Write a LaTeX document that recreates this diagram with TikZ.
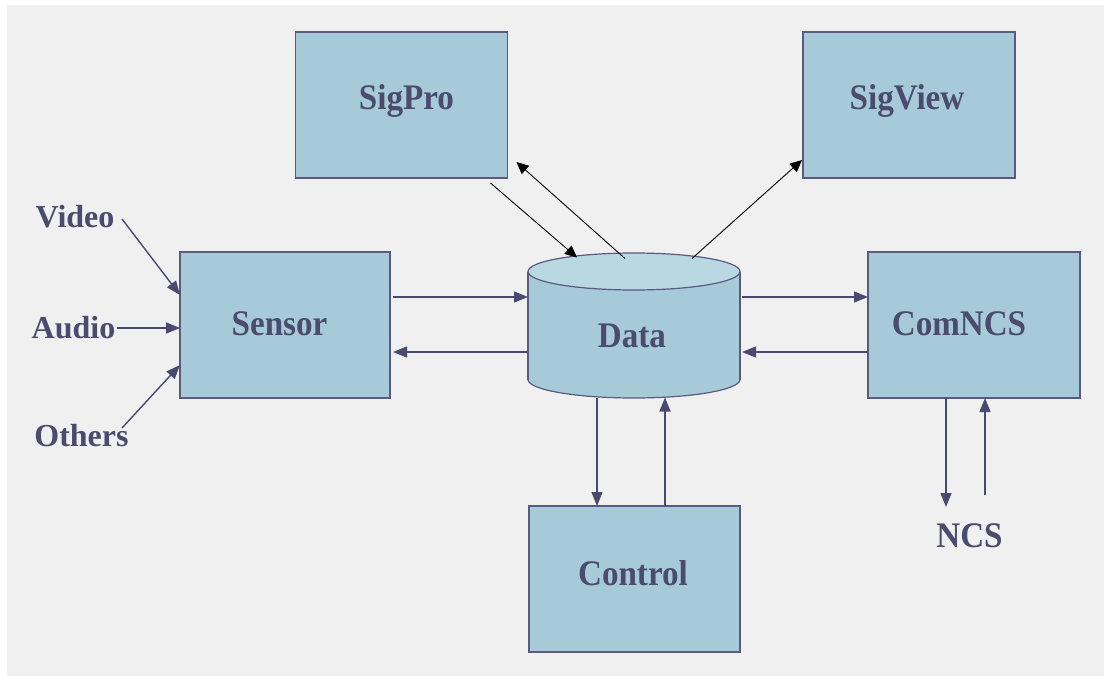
\documentclass[tikz,border=0pt]{standalone}
\usepackage{fontspec}
\setmainfont{Liberation Serif}
\newfontfamily\boxfont[FakeStretch=0.92]{Liberation Serif}
\usetikzlibrary{arrows.meta,calc}

\definecolor{paper}{RGB}{240,240,240}
\definecolor{boxfill}{RGB}{166,202,216}
\definecolor{topfill}{RGB}{186,216,226}
\definecolor{edge}{RGB}{90,90,128}
\definecolor{ink}{RGB}{75,75,110}
\definecolor{flow}{RGB}{74,74,112}

\tikzset{
  block/.style={draw=edge, fill=boxfill, line width=1.2pt, minimum width=212pt,
    minimum height=146pt, inner sep=0pt, outer sep=0pt},
  boxtext/.style={anchor=base, text=ink, inner sep=0pt,
    font=\boxfont\bfseries\fontsize{36}{40}\selectfont},
  sidetext/.style={anchor=base, text=ink, inner sep=0pt,
    font=\bfseries\fontsize{32}{36}\selectfont},
  flowline/.style={draw=flow, line width=1.4pt, -{Triangle[length=14pt,width=11pt]}},
  thinline/.style={draw=black, line width=0.9pt, -{Triangle[length=12pt,width=11pt]}},
}

\begin{document}
\begin{tikzpicture}[x=1pt, y=-1pt]
  % page and textured paper area
  \fill[white] (0,0) rectangle (1106,680);
  \useasboundingbox (0,0) rectangle (1106,680);
  \fill[paper] (7,5) rectangle (1104,676);

  % rectangular blocks
  \node[block] (sigpro)  at (401.5,105) {};
  \node[block] (sigview) at (909,105)   {};
  \node[block, minimum width=210pt] (sensor) at (285,325) {};
  \node[block] (comncs)  at (974,325)   {};
  \node[block, minimum width=211pt] (control) at (634.5,579) {};

  % data store drawn as a cylinder
  \node[minimum width=212pt, minimum height=145pt, inner sep=0pt, outer sep=0pt] (data) at (634,325) {};
  \fill[boxfill] (528,271.5) rectangle (740,379.5);
  \fill[boxfill] (634,379.5) ellipse [x radius=106, y radius=18.5];
  \begin{scope}
    \clip (520,379.5) rectangle (750,405);
    \draw[edge, line width=1.2pt] (634,379.5) ellipse [x radius=106, y radius=18.5];
  \end{scope}
  \draw[edge, line width=1.2pt] (528,271.5) -- (528,379.5) (740,271.5) -- (740,379.5);
  \draw[edge, fill=topfill, line width=1.2pt] (634,271.5) ellipse [x radius=106, y radius=18.5];

  % labels
  \node[boxtext] (sigpro-t)  at (406.5,109) {SigPro};
  \node[boxtext] (sigview-t) at (907,109)   {SigView};
  \node[boxtext] (sensor-t)  at (279.5,335) {Sensor};
  \node[boxtext] (data-t)    at (632,347)   {Data};
  \node[boxtext] (comncs-t)  at (959,335)   {ComNCS};
  \node[boxtext] (control-t) at (633,585)   {Control};
  \node[boxtext] (ncs)       at (969.5,547) {NCS};
  \node[sidetext] (video)  at (75,227)   {Video};
  \node[sidetext] (audio)  at (73.5,338) {Audio};
  \node[sidetext] (others) at (81.5,446) {Others};

  % inputs to the sensor
  \draw[flowline] ($(video.base)+(47,-8)$)    -- ($(sensor.west)+(0,-30)$);
  \draw[flowline] ($(audio.base)+(43.5,-10)$) -- ($(sensor.west)+(0,3)$);
  \draw[flowline] ($(others.base)+(40.5,-18)$) -- ($(sensor.west)+(0,40)$);

  % sensor <-> data
  \draw[flowline] ($(sensor.east)+(3,-28)$) -- ($(data.west)+(0,-28)$);
  \draw[flowline] ($(data.west)+(0,27)$)    -- ($(sensor.east)+(3,27)$);

  % data <-> comncs
  \draw[flowline] ($(data.east)+(2,-28)$)  -- ($(comncs.west)+(0,-28)$);
  \draw[flowline] ($(comncs.west)+(0,27)$) -- ($(data.east)+(2,27)$);

  % data <-> control
  \draw[flowline] ($(data.south)+(-37,0)$)     -- ($(control.north)+(-37.5,0)$);
  \draw[flowline] ($(control.north)+(30.5,0)$) -- ($(data.south)+(31,0)$);

  % comncs <-> ncs
  \draw[flowline] ($(comncs.south)+(-28,0)$) -- ($(ncs.base)+(-23.5,-40)$);
  \draw[flowline] ($(ncs.base)+(15.5,-52)$)  -- ($(comncs.south)+(11,0)$);

  % data <-> signal processing and viewing
  \draw[thinline] ($(sigpro.south east)+(-17,5)$) -- ($(data.north)+(-57,5)$);
  \draw[thinline] ($(data.north)+(-9,6)$)  -- ($(sigpro.south east)+(9,-16)$);
  \draw[thinline] ($(data.north)+(58,6)$)  -- ($(sigview.south west)+(-1,-18)$);
\end{tikzpicture}
\end{document}
